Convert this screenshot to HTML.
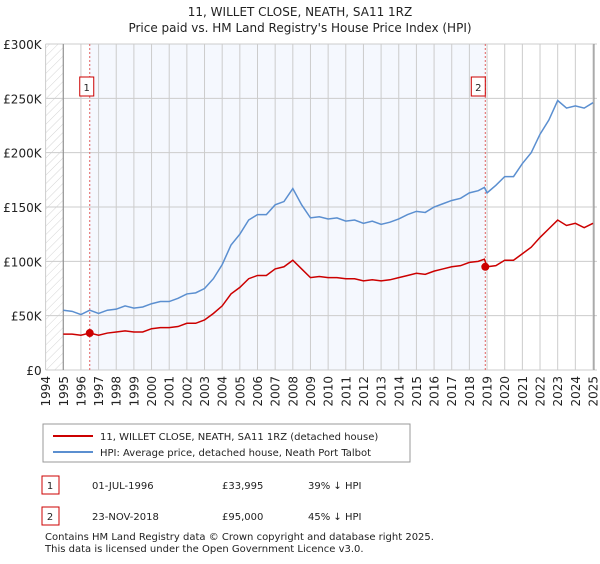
<!DOCTYPE html>
<html><head><meta charset="utf-8"><style>
body{margin:0;background:#fff;font-family:"DejaVu Sans","Liberation Sans",sans-serif;}
svg text{font-family:"DejaVu Sans","Liberation Sans",sans-serif;fill:#222;}
</style></head><body>
<svg width="600" height="560">
<defs><pattern id="hatch" width="6" height="6" patternUnits="userSpaceOnUse" patternTransform="rotate(45)"><line x1="0" y1="0" x2="0" y2="6" stroke="#d4d4d4" stroke-width="1"/></pattern></defs>
<text x="300" y="16" text-anchor="middle" font-size="12">11, WILLET CLOSE, NEATH, SA11 1RZ</text>
<text x="300" y="32" text-anchor="middle" font-size="12">Price paid vs. HM Land Registry's House Price Index (HPI)</text>
<g id="plot"></g>
<rect x="43" y="424" width="367" height="38" fill="#fff" stroke="#999"/>
<line x1="53" y1="436" x2="93" y2="436" stroke="#cc0000" stroke-width="2"/>
<text x="100" y="440" font-size="10">11, WILLET CLOSE, NEATH, SA11 1RZ (detached house)</text>
<line x1="53" y1="452" x2="93" y2="452" stroke="#5b8fd0" stroke-width="2"/>
<text x="100" y="456" font-size="10">HPI: Average price, detached house, Neath Port Talbot</text>
<g font-size="10">
<rect x="42" y="476" width="17" height="18" fill="#fff" stroke="#cc0000"/><text x="50" y="489" text-anchor="middle">1</text>
<text x="92" y="489">01-JUL-1996</text><text x="222" y="489">£33,995</text><text x="308" y="489">39% ↓ HPI</text>
<rect x="42" y="507" width="17" height="18" fill="#fff" stroke="#cc0000"/><text x="50" y="520" text-anchor="middle">2</text>
<text x="92" y="520">23-NOV-2018</text><text x="222" y="520">£95,000</text><text x="308" y="520">45% ↓ HPI</text>
</g>
<text x="45" y="540" font-size="10" fill="#444">Contains HM Land Registry data © Crown copyright and database right 2025.</text>
<text x="45" y="552" font-size="10" fill="#444">This data is licensed under the Open Government Licence v3.0.</text>
</svg>
<script>
const years=[1995,1995.5,1996,1996.5,1997,1997.5,1998,1998.5,1999,1999.5,2000,2000.5,2001,2001.5,2002,2002.5,2003,2003.5,2004,2004.5,2005,2005.5,2006,2006.5,2007,2007.5,2008,2008.5,2009,2009.5,2010,2010.5,2011,2011.5,2012,2012.5,2013,2013.5,2014,2014.5,2015,2015.5,2016,2016.5,2017,2017.5,2018,2018.5,2018.85,2019,2019.5,2020,2020.5,2021,2021.5,2022,2022.5,2023,2023.5,2024,2024.5,2025];
const hpi=[55,54,51,55,52,55,56,59,57,58,61,63,63,66,70,71,75,84,97,115,125,138,143,143,152,155,167,152,140,141,139,140,137,138,135,137,134,136,139,143,146,145,150,153,156,158,163,165,168,163,170,178,178,190,200,217,230,248,241,243,241,246];
const price=[33,33,32,34,32,34,35,36,35,35,38,39,39,40,43,43,46,52,59,70,76,84,87,87,93,95,101,93,85,86,85,85,84,84,82,83,82,83,85,87,89,88,91,93,95,96,99,100,102,95,96,101,101,107,113,122,130,138,133,135,131,135];
const sales=[[1996.5,33.995],[2018.9,95]];
const yTicks=[0,50,100,150,200,250,300];
const NS="http://www.w3.org/2000/svg";
const X0=45.6,X1=593,Y0=370,Y1=44;
const xs=y=>X0+(y-1994)*(X1-X0)/31;
const ys=v=>Y0-(v/300)*(Y0-Y1);
const g=document.getElementById('plot');
function mk(t,a){const e=document.createElementNS(NS,t);for(const k in a)e.setAttribute(k,a[k]);g.appendChild(e);return e;}
let e;
e=mk('rect',{x:X0,y:Y1,width:xs(1995)-X0,height:Y0-Y1,fill:'url(#hatch)'});


e=mk('rect',{x:xs(sales[0][0]),y:Y1,width:xs(sales[1][0])-xs(sales[0][0]),height:Y0-Y1,fill:'#f5f8fe'});


for(let yr=1994;yr<=2025;yr++){
 e=mk('line',{x1:xs(yr),x2:xs(yr),y1:Y1,y2:Y0,stroke:'#ccc','stroke-width':1});
 
 
 e=mk('text',{x:0,y:0,'font-size':12,'text-anchor':'end',transform:`translate(${xs(yr)+4.5},${Y0+6}) rotate(-90)`});
 e.textContent=yr;
 
 
}
yTicks.forEach(v=>{
 e=mk('line',{x1:X0,x2:X1+4,y1:ys(v),y2:ys(v),stroke:'#ccc','stroke-width':1});
 
 
 e=mk('text',{x:X0-4,y:ys(v)+5,'font-size':12,'text-anchor':'end'});
 e.textContent=v===0?'£0':'£'+v+'K';
 
 
});
e=mk('line',{x1:xs(1995),x2:xs(1995),y1:Y1,y2:Y0,stroke:'#888'});


e=mk('line',{x1:X1+1,x2:X1+1,y1:Y1,y2:Y0,stroke:'#888'});


sales.forEach((s,i)=>{
 e=mk('line',{x1:xs(s[0]),x2:xs(s[0]),y1:Y1,y2:Y0,stroke:'#e06060','stroke-dasharray':'2,2'});
 
 
 const bx=xs(s[0])-(i==0?10:14);
 e=mk('rect',{x:bx,y:77,width:14,height:19,fill:'#fff',stroke:'#cc0000'});
 
 
 e=mk('text',{x:bx+7,y:91,'font-size':10,'text-anchor':'middle'});
 e.textContent=i+1;
 
 
});
e=mk('polyline',{points:years.map((y,i)=>xs(y)+','+ys(hpi[i])).join(' '),fill:'none',stroke:'#5b8fd0','stroke-width':1.5});


e=mk('polyline',{points:years.map((y,i)=>xs(y)+','+ys(price[i])).join(' '),fill:'none',stroke:'#cc0000','stroke-width':1.5});


sales.forEach(s=>{
 e=mk('circle',{cx:xs(s[0]),cy:ys(s[1]),r:4,fill:'#cc0000'});
 
 
});
</script>
</body></html>
